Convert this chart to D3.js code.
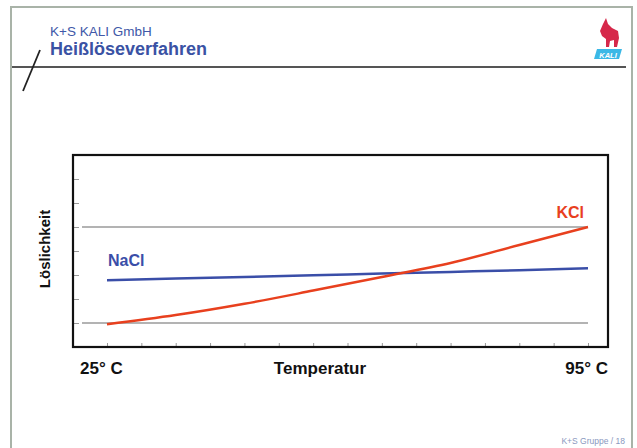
<!DOCTYPE html>
<html><head><meta charset="utf-8">
<script src="https://cdn.jsdelivr.net/npm/d3@7/dist/d3.min.js"></script>
<style>
html,body{margin:0;padding:0;background:#fff;}
svg{display:block;font-family:"Liberation Sans",Arial,sans-serif;}
</style></head>
<body><svg id="c" width="637" height="448"></svg>
<script>
// Data
const temps = [25, 35, 45, 55, 65, 75, 85, 95];
const kcl   = [0.95, 1.33, 1.8, 2.35, 2.92, 3.5, 4.25, 5.0];
const nacl  = [2.78, 2.85, 2.92, 2.99, 3.06, 3.13, 3.2, 3.28];
const refLevels = [1, 5];
const xTickValues = [25,30,35,40,45,50,55,60,65,70,75,80,85,90,95];
const yTickValues = [1,2,3,4,5,6,7];
const xLabels = ["25° C", "Temperatur", "95° C"];
const yLabel = "Löslichkeit";
const seriesNames = ["NaCl", "KCl"];

const svg = d3.select("#c");

// slide frame
svg.append("rect").attr("x",11).attr("y",7).attr("width",621).attr("height",450)
  .attr("fill","#fff").attr("stroke","#a9b3a8").attr("stroke-width",2);

// header
svg.append("text").attr("x",50).attr("y",36).attr("fill","#4058a8")
  .attr("font-size",13.5).text("K+S KALI GmbH");
svg.append("text").attr("x",50).attr("y",55).attr("fill","#3a52a4")
  .attr("font-size",18).attr("font-weight","bold").text("Heißlöseverfahren");
svg.append("line").attr("x1",12).attr("x2",626).attr("y1",67).attr("y2",67)
  .attr("stroke","#555").attr("stroke-width",2);
svg.append("line").attr("x1",40).attr("y1",50).attr("x2",23).attr("y2",91)
  .attr("stroke","#222").attr("stroke-width",1.8);

// logo
const logo = svg.append("g");
logo.append("path").attr("d","M603,24 L606,18 L608,24 L612,28 L618,31 L619,38 L617,47 L614,47 L614,40 L610,41 L609,47 L606,47 L606,39 L602,36 L600,31 Z")
  .attr("fill","#d6284a");
logo.append("path").attr("d","M597,49 L622,49 L619,59 L594,59 Z").attr("fill","#3bb8e6");
logo.append("text").attr("x",608).attr("y",57.5).attr("text-anchor","middle")
  .attr("font-size",7.5).attr("font-weight","bold").attr("font-style","italic")
  .attr("fill","#fff").text("KALI");

// plot
const L = 73, T = 155, R = 608, B = 347;
const x = d3.scaleLinear().domain([25,95]).range([107,588]);
const y = d3.scaleLinear().domain([0,8]).range([B,T]);

const g = svg.append("g");
// reference lines
g.selectAll("line.ref").data(refLevels).join("line")
  .attr("x1",82).attr("x2",x(95)).attr("y1",d=>y(d)).attr("y2",d=>y(d))
  .attr("stroke","#9a9a9a").attr("stroke-width",1.5);

// axes (ticks inside)
const yAxis = d3.axisRight(y).tickValues(yTickValues).tickSize(6).tickFormat("");
const ya = g.append("g").attr("transform",`translate(${L},0)`).call(yAxis);
ya.select(".domain").remove();
ya.selectAll(".tick line").attr("stroke","#999").attr("stroke-width",1);

const xAxis = d3.axisTop(x).tickValues(xTickValues).tickSize(4).tickFormat("");
const xa = g.append("g").attr("transform",`translate(0,${B})`).call(xAxis);
xa.select(".domain").remove();
xa.selectAll(".tick line").attr("stroke","#999").attr("stroke-width",1);

// box
g.append("rect").attr("x",L).attr("y",T).attr("width",R-L).attr("height",B-T)
  .attr("fill","none").attr("stroke","#111").attr("stroke-width",2.2);

const line = d3.line().x((d,i)=>x(temps[i])).y(d=>y(d)).curve(d3.curveMonotoneX);
g.append("path").datum(nacl).attr("d",line).attr("fill","none")
  .attr("stroke","#3a4ea8").attr("stroke-width",2.5);
g.append("path").datum(kcl).attr("d",line).attr("fill","none")
  .attr("stroke","#e8401e").attr("stroke-width",2.5);

// series labels
svg.append("text").attr("x",108).attr("y",266).attr("fill","#3a4ea8")
  .attr("font-size",16).attr("font-weight","bold").text(seriesNames[0]);
svg.append("text").attr("x",584).attr("y",218).attr("text-anchor","end").attr("fill","#e8401e")
  .attr("font-size",16).attr("font-weight","bold").text(seriesNames[1]);

// axis labels
svg.append("text").attr("x",80).attr("y",374).attr("fill","#111")
  .attr("font-size",17).attr("font-weight","bold").text(xLabels[0]);
svg.append("text").attr("x",320).attr("y",374).attr("text-anchor","middle").attr("fill","#111")
  .attr("font-size",17).attr("font-weight","bold").text(xLabels[1]);
svg.append("text").attr("x",608).attr("y",374).attr("text-anchor","end").attr("fill","#111")
  .attr("font-size",17).attr("font-weight","bold").text(xLabels[2]);
svg.append("text").attr("transform","translate(50,249) rotate(-90)").attr("text-anchor","middle")
  .attr("fill","#111").attr("font-size",15).attr("font-weight","bold").text(yLabel);

// footer
svg.append("text").attr("x",625).attr("y",444).attr("text-anchor","end").attr("fill","#8a98c0")
  .attr("font-size",8.5).text("K+S Gruppe / 18");
</script></body></html>
